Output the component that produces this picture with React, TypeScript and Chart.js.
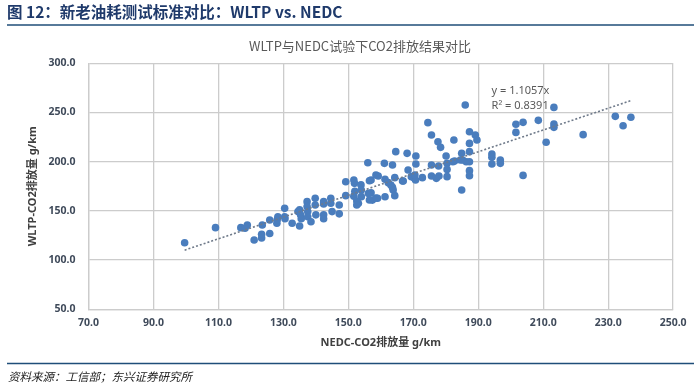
import React, { useEffect, useRef } from "react";
import { Chart, registerables } from "chart.js";

Chart.register(...registerables);

// NEDC CO2 (x) and WLTP CO2 (y) emission values, g/km
const nedcValues = [
  99.6, 109.1, 116.9, 118.2, 118.9, 121.0, 123.3, 123.3, 123.5, 125.8,
  125.8, 128.0, 128.1, 128.3, 130.4, 130.4, 130.5, 132.7, 134.5, 135.0,
  135.0, 135.3, 135.5, 137.3, 137.3, 137.5, 137.5, 138.5, 139.8, 139.8,
  140.0, 142.4, 142.4, 142.4, 142.4, 144.6, 144.6, 145.0, 147.2, 147.2,
  149.2, 149.2, 151.7, 151.9, 152.0, 151.7, 153.9, 154.0, 154.0, 153.1,
  152.6, 156.0, 157.0, 157.0, 157.4, 158.5, 158.5, 156.5, 156.5, 152.6,
  156.2, 159.0, 159.2, 161.1, 161.3, 161.3, 162.3, 163.1, 163.6, 163.8,
  164.3, 164.3, 163.6, 164.6, 166.7, 168.1, 168.4, 169.4, 170.2, 170.8,
  170.8, 170.7, 172.8, 174.5, 175.6, 175.6, 175.6, 177.1, 177.6, 177.8,
  177.9, 178.4, 180.1, 180.4, 180.4, 180.4, 182.5, 182.7, 184.5, 184.9,
  184.9, 186.0, 186.3, 187.3, 187.3, 187.3, 187.3, 187.3, 187.3, 189.1,
  189.6, 194.2, 194.2, 194.2, 196.8, 196.8, 201.6, 201.6, 203.8, 203.8,
  208.5, 210.9, 213.3, 213.3, 213.3, 222.3, 232.2, 234.6, 237.0, 182.2,
  185.2, 166.9, 170.5,
];
const wltpValues = [
  117.7, 133.0, 133.0, 132.3, 135.7, 120.5, 122.5, 126.2, 135.7, 127.0,
  140.8, 137.5, 141.0, 144.0, 152.6, 144.1, 142.0, 137.4, 149.3, 134.7,
  151.0, 146.0, 142.0, 159.4, 154.4, 149.3, 144.0, 139.0, 162.8, 156.0,
  146.0, 159.4, 157.0, 146.0, 142.0, 162.8, 157.7, 149.3, 156.0, 147.0,
  179.7, 165.5, 181.4, 178.0, 170.0, 165.0, 176.4, 171.3, 164.5, 157.7,
  160.0, 199.0, 181.4, 168.5, 161.0, 186.5, 163.0, 180.7, 161.1, 156.0,
  167.8, 162.8, 185.5, 198.3, 182.1, 164.4, 178.7, 176.3, 173.9, 171.2,
  183.8, 165.5, 196.6, 210.2, 180.4, 208.5, 191.5, 184.8, 183.8, 205.8,
  197.6, 181.4, 183.8, 239.7, 227.1, 196.6, 185.5, 183.1, 220.3, 195.6,
  185.5, 214.6, 205.8, 198.3, 192.2, 184.8, 222.0, 200.7, 201.7, 208.5,
  171.2, 257.6, 200.0, 230.5, 218.6, 210.2, 200.0, 190.9, 185.8, 227.1,
  222.0, 207.8, 204.4, 197.6, 201.7, 198.3, 238.0, 229.8, 240.0, 186.1,
  242.0, 219.7, 255.2, 238.3, 234.9, 227.5, 246.1, 236.6, 245.1, 200.0,
  201.7, 180.4, 186.5,
];

const xTickValues = [70, 90, 110, 130, 150, 170, 190, 210, 230, 250];
const yTickValues = [50, 100, 150, 200, 250, 300];

const trendSlope = 1.1057;
const trendR2 = 0.8391;
const trendRange = [99.6, 237.0];

const headerTitle = "图 12：新老油耗测试标准对比：WLTP vs. NEDC";
const chartTitle = "WLTP与NEDC试验下CO2排放结果对比";
const xAxisTitle = "NEDC-CO2排放量 g/km";
const yAxisTitle = "WLTP-CO2排放量 g/km";
const sourceText = "资料来源：工信部；东兴证券研究所";

const LATIN = '"Noto Sans", "Noto Sans CJK SC", sans-serif';
const CJK = '"Noto Sans CJK SC", "Noto Sans", sans-serif';

const decorPlugin = {
  id: "decor",
  afterDraw(chart: any) {
    const { ctx, scales } = chart;
    const W = chart.width;
    ctx.save();
    // header title
    ctx.fillStyle = "#1f3a6b";
    ctx.font = `bold 15.5px ${CJK}`;
    ctx.textAlign = "left";
    ctx.textBaseline = "middle";
    ctx.fillText(headerTitle, 7, 12.5);
    // header rule
    ctx.strokeStyle = "#1f4e79";
    ctx.lineWidth = 1.5;
    ctx.beginPath();
    ctx.moveTo(7, 25);
    ctx.lineTo(W, 25);
    ctx.stroke();
    // footer rule
    ctx.beginPath();
    ctx.moveTo(7, 363.5);
    ctx.lineTo(W, 363.5);
    ctx.stroke();
    // source
    ctx.fillStyle = "#222222";
    ctx.font = `italic 11.5px ${CJK}`;
    ctx.fillText(sourceText, 8, 377);
    // chart title
    ctx.fillStyle = "#595959";
    ctx.font = `13px ${CJK}`;
    ctx.textAlign = "center";
    ctx.fillText(chartTitle, 360, 46.5);
    // trendline equation
    const x = scales.x;
    const y = scales.y;
    ctx.font = `11px ${LATIN}`;
    ctx.textAlign = "left";
    ctx.fillStyle = "#595959";
    ctx.fillText(`y = ${trendSlope}x`, x.getPixelForValue(194.1), y.getPixelForValue(272));
    ctx.fillText(`R² = ${trendR2}`, x.getPixelForValue(194.1), y.getPixelForValue(257));
    ctx.restore();
  },
};

export default function App() {
  const ref = useRef<HTMLCanvasElement | null>(null);

  useEffect(() => {
    if (!ref.current) return;
    const points = nedcValues.map((v, i) => ({ x: v, y: wltpValues[i] }));
    const trend = trendRange.map((v) => ({ x: v, y: v * trendSlope }));
    const gridColor = "#cccccc";
    const tickColor = "#3f4a5a";
    const chart = new Chart(ref.current, {
      type: "scatter",
      data: {
        datasets: [
          {
            type: "line",
            label: "trend",
            data: trend,
            borderColor: "#6f7a8a",
            borderWidth: 1.6,
            borderDash: [2, 2],
            pointRadius: 0,
            fill: false,
            order: 0,
          } as any,
          {
            label: "CO2",
            data: points,
            backgroundColor: "#4a7dbd",
            borderWidth: 0,
            pointRadius: 3.8,
            order: 1,
          },
        ],
      },
      options: {
        responsive: false,
        animation: false,
        devicePixelRatio: 1,
        layout: { padding: { left: 0, right: 17, top: 63.3, bottom: 0 } },
        plugins: {
          legend: { display: false },
          tooltip: { enabled: false },
          title: { display: false },
        },
        scales: {
          x: {
            type: "linear",
            min: 70,
            max: 250,
            afterBuildTicks: (s: any) => {
              s.ticks = xTickValues.map((v) => ({ value: v }));
            },
            afterFit: (s: any) => {
              s.height = 78.7;
            },
            grid: { color: gridColor, lineWidth: 1.3, drawTicks: false },
            border: { color: gridColor, width: 1.3 },
            ticks: {
              padding: 7.4,
              color: tickColor,
              font: { family: LATIN, size: 10.5, weight: "bold" },
              callback: (v: any) => Number(v).toFixed(1),
              maxRotation: 0,
            },
            title: {
              display: true,
              text: xAxisTitle,
              color: "#404040",
              font: { family: LATIN, size: 11, weight: "bold" },
              padding: { top: 0, bottom: 38.9 },
            },
          },
          y: {
            type: "linear",
            min: 50,
            max: 300,
            afterBuildTicks: (s: any) => {
              s.ticks = yTickValues.map((v) => ({ value: v }));
            },
            afterFit: (s: any) => {
              s.width = 88.5;
            },
            grid: { color: gridColor, lineWidth: 1.3, drawTicks: false },
            border: { color: gridColor, width: 1.3 },
            ticks: {
              padding: 13,
              color: tickColor,
              font: { family: LATIN, size: 10.5, weight: "bold" },
              callback: (v: any) => Number(v).toFixed(1),
            },
            title: {
              display: true,
              text: yAxisTitle,
              color: "#404040",
              font: { family: LATIN, size: 11, weight: "bold" },
              padding: { top: 26.4, bottom: 0 },
            },
          },
        },
      },
      plugins: [decorPlugin],
    });
    return () => chart.destroy();
  }, []);

  return (
    <div style={{ position: "absolute", left: 0, top: 0, width: 694, height: 388, background: "#ffffff" }}>
      <canvas ref={ref} width={694} height={388} style={{ width: 694, height: 388, display: "block" }} />
    </div>
  );
}
